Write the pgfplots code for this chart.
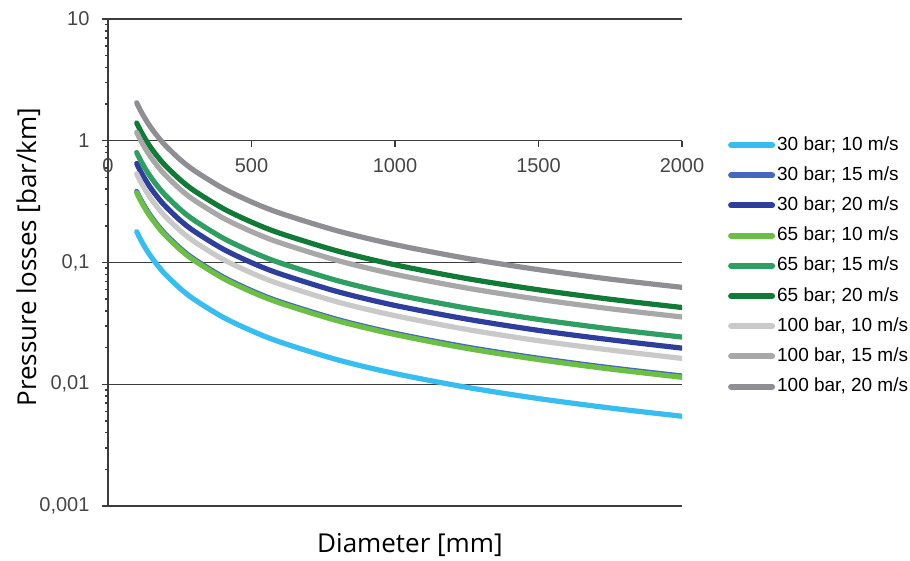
\documentclass[border=0pt]{standalone}
\usepackage{pgfplots}
\pgfplotsset{compat=1.18}
\usepackage{fontspec}
\setmainfont{Liberation Sans}
\newfontfamily\labfont{Open Sans}
\definecolor{cA}{HTML}{38BDF0}
\definecolor{cB}{HTML}{4468BF}
\definecolor{cC}{HTML}{2E3E9C}
\definecolor{cD}{HTML}{6BBF45}
\definecolor{cE}{HTML}{2E9E62}
\definecolor{cF}{HTML}{117A37}
\definecolor{cG}{HTML}{C9C9C9}
\definecolor{cH}{HTML}{A8A8A8}
\definecolor{cI}{HTML}{8F8F93}
\definecolor{axgray}{HTML}{3C3C3C}
\definecolor{lblgray}{HTML}{454545}
\begin{document}
\begin{tikzpicture}
\useasboundingbox (-108pt,-55pt) rectangle (802pt,506pt);
\begin{axis}[
  width=574pt, height=487pt, scale only axis,
  xmin=0, xmax=2000, ymode=log, ymin=0.001, ymax=10,
  axis y line=left, axis x line=middle,
  axis line style={-, draw=axgray, line width=1.5pt},
  xtick={0,500,1000,1500,2000}, xticklabels={0,500,1000,1500,2000},
  ytick={0.001,0.01,0.1,1,10}, yticklabels={{0,001},{0,01},{0,1},1,10},
  ymajorgrids, grid style={axgray, line width=1.5pt},
  tick align=outside, major tick length=6pt, minor tick num=0,
  tick style={axgray, line width=1.5pt},
  tick label style={font=\fontsize{20}{24}\selectfont, text=lblgray},
  xticklabel style={yshift=-8pt},
  yticklabel style={xshift=-9pt},
  hide obscured x ticks=false,
  xlabel={Diameter [mm]}, ylabel={Pressure losses [bar/km]},
  xlabel style={at={(axis description cs:0.526,-0.080)}, anchor=center, font=\labfont\fontsize{26}{30}\selectfont},
  ylabel style={at={(axis description cs:-0.139,0.511)}, anchor=center, font=\labfont\fontsize{26}{30}\selectfont},
  legend style={at={(axis description cs:1.080,0.760)}, anchor=north west, draw=none, fill=none, inner sep=0pt,
    font=\fontsize{19}{22}\selectfont, row sep=12.2pt, column sep=2pt,
    nodes={inner sep=0pt, text height=14pt, text depth=4pt}},
  legend cell align=left,
  legend image code/.code={\draw[#1, line width=6pt, line cap=round] (3pt,0pt) -- (44pt,0pt);},
  every axis plot/.append style={line width=5.2pt, line cap=round, smooth},
]
\addplot[cA] coordinates {(100,0.179) (110,0.1602) (120,0.1447) (135,0.1262) (150,0.1116) (175,0.0933) (200,0.0798) (250,0.0616) (300,0.0498) (400,0.0356) (500,0.0275) (600,0.0222) (800,0.01587) (1000,0.01224) (1250,0.00944) (1500,0.00763) (1750,0.00638) (2000,0.00546)};
\addlegendentry{30 bar; 10 m/s}
\addplot[cB] coordinates {(100,0.3834) (110,0.3431) (120,0.3100) (135,0.2703) (150,0.2391) (175,0.1998) (200,0.1710) (250,0.1319) (300,0.1066) (400,0.0763) (500,0.0588) (600,0.0475) (800,0.0340) (1000,0.0262) (1250,0.0202) (1500,0.01635) (1750,0.01366) (2000,0.01169)};
\addlegendentry{30 bar; 15 m/s}
\addplot[cC] coordinates {(100,0.65) (110,0.5817) (120,0.5256) (135,0.4583) (150,0.4053) (175,0.3387) (200,0.2899) (250,0.2235) (300,0.1808) (400,0.1293) (500,0.0997) (600,0.0806) (800,0.0576) (1000,0.0444) (1250,0.0343) (1500,0.0277) (1750,0.0232) (2000,0.0198)};
\addlegendentry{30 bar; 20 m/s}
\addplot[cD] coordinates {(100,0.374) (110,0.3347) (120,0.3024) (135,0.2637) (150,0.2332) (175,0.1949) (200,0.1668) (250,0.1286) (300,0.1040) (400,0.0744) (500,0.0574) (600,0.0464) (800,0.0332) (1000,0.0256) (1250,0.0197) (1500,0.01595) (1750,0.01333) (2000,0.01141)};
\addlegendentry{65 bar; 10 m/s}
\addplot[cE] coordinates {(100,0.80) (110,0.7159) (120,0.6469) (135,0.5640) (150,0.4988) (175,0.4168) (200,0.3568) (250,0.2751) (300,0.2225) (400,0.1591) (500,0.1227) (600,0.0992) (800,0.0709) (1000,0.0547) (1250,0.0422) (1500,0.0341) (1750,0.0285) (2000,0.0244)};
\addlegendentry{65 bar; 15 m/s}
\addplot[cF] coordinates {(100,1.40) (110,1.2529) (120,1.1320) (135,0.9870) (150,0.8729) (175,0.7294) (200,0.6244) (250,0.4815) (300,0.3893) (400,0.2785) (500,0.2148) (600,0.1736) (800,0.1242) (1000,0.0957) (1250,0.0738) (1500,0.0597) (1750,0.0499) (2000,0.0427)};
\addlegendentry{65 bar; 20 m/s}
\addplot[cG] coordinates {(100,0.535) (110,0.4788) (120,0.4326) (135,0.3772) (150,0.3336) (175,0.2787) (200,0.2386) (250,0.1840) (300,0.1488) (400,0.1064) (500,0.0821) (600,0.0663) (800,0.0474) (1000,0.0366) (1250,0.0282) (1500,0.0228) (1750,0.0191) (2000,0.0163)};
\addlegendentry{100 bar, 10 m/s}
\addplot[cH] coordinates {(100,1.17) (110,1.0470) (120,0.9461) (135,0.8249) (150,0.7295) (175,0.6096) (200,0.5218) (250,0.4024) (300,0.3254) (400,0.2327) (500,0.1795) (600,0.1451) (800,0.1038) (1000,0.0800) (1250,0.0617) (1500,0.0499) (1750,0.0417) (2000,0.0357)};
\addlegendentry{100 bar, 15 m/s}
\addplot[cI] coordinates {(100,2.05) (110,1.8345) (120,1.6576) (135,1.4453) (150,1.2782) (175,1.0681) (200,0.9143) (250,0.7050) (300,0.5701) (400,0.4077) (500,0.3145) (600,0.2542) (800,0.1818) (1000,0.1402) (1250,0.1081) (1500,0.0874) (1750,0.0730) (2000,0.0625)};
\addlegendentry{100 bar, 20 m/s}
\end{axis}
\end{tikzpicture}
\end{document}
